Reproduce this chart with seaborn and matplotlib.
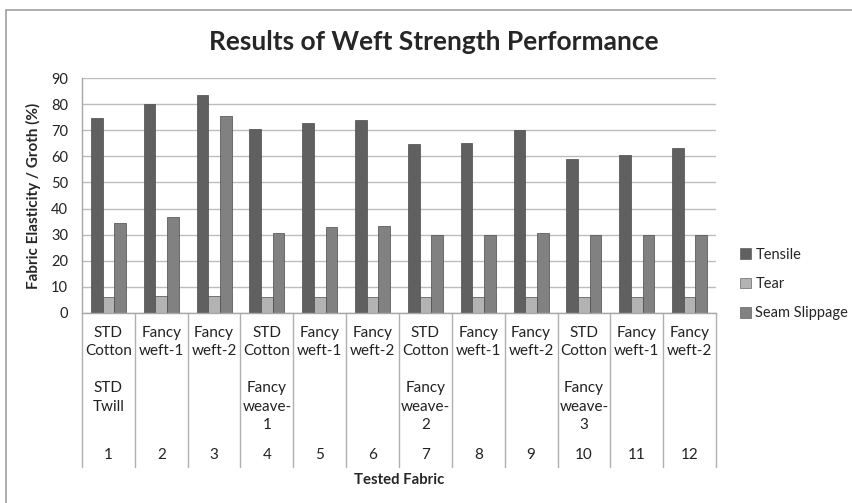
import numpy as np
import pandas as pd
import matplotlib.pyplot as plt
import matplotlib.transforms as mtransforms
from matplotlib.patches import Rectangle, Patch
import seaborn as sns

# values
fabric_no = ['1', '2', '3', '4', '5', '6', '7', '8', '9', '10', '11', '12']
fabric_type = ['STD\nCotton', 'Fancy\nweft-1', 'Fancy\nweft-2'] * 4
weave_type = ['STD\nTwill', '', '', 'Fancy\nweave-\n1', '', '',
              'Fancy\nweave-\n2', '', '', 'Fancy\nweave-\n3', '', '']
tensile = [74.7, 80.2, 83.5, 70.6, 72.8, 73.9, 64.6, 65.0, 69.9, 59.1, 60.7, 63.2]
tear = [6.3, 6.5, 6.5, 6.3, 6.3, 6.3, 6.3, 6.3, 6.3, 6.0, 6.0, 6.0]
seam = [34.5, 36.7, 75.4, 30.8, 32.8, 33.2, 30.0, 30.0, 30.5, 30.0, 30.0, 30.0]
series = ['Tensile', 'Tear', 'Seam Slippage']
colors = ['#606060', '#b3b3b3', '#818181']

df = pd.DataFrame({'Fabric': fabric_no * 3,
                   'Test': np.repeat(series, len(fabric_no)),
                   'Value': tensile + tear + seam})

sns.set_style('white')
plt.rcParams['font.family'] = ['Lato', 'DejaVu Sans']

fig = plt.figure(figsize=(8.53, 5.03), dpi=100)
ax = fig.add_axes([82 / 853, 1 - 313 / 503, (716 - 82) / 853, 235 / 503])

sns.barplot(data=df, x='Fabric', y='Value', hue='Test', order=fabric_no,
            hue_order=series, palette=colors, width=0.66, gap=0,
            edgecolor='#4a4a4a', linewidth=0.5, ax=ax, legend=False)

ax.set_ylim(0, 90)
ax.set_xlim(-0.5, 11.5)
ax.set_yticks(range(0, 91, 10))
ax.tick_params(axis='y', labelsize=10.5, length=0, pad=10, colors='#222222')
ax.set_xticks([])
ax.set_xlabel('')
ax.set_ylabel('Fabric Elasticity / Groth (%)', fontsize=11, fontweight='bold',
              labelpad=7)
ax.yaxis.grid(True, color='#bdbdbd', linewidth=1)
ax.set_axisbelow(True)
for s in ['top', 'right']:
    ax.spines[s].set_visible(False)
for s in ['left', 'bottom']:
    ax.spines[s].set_color('#a6a6a6')
    ax.spines[s].set_linewidth(1)

# multi-level category axis
trans = mtransforms.blended_transform_factory(ax.transData, ax.transAxes)
for i in range(13):
    ax.plot([i - 0.5, i - 0.5], [0, -0.655], transform=trans, clip_on=False,
            color='#b0b0b0', linewidth=1)
for i in range(12):
    ax.text(i, -0.055, fabric_type[i], transform=trans, ha='center', va='top',
            fontsize=11, linespacing=1.4, color='#222222')
    ax.text(i, -0.29, weave_type[i], transform=trans, ha='center', va='top',
            fontsize=11, linespacing=1.4, color='#222222')
    ax.text(i, -0.605, fabric_no[i], transform=trans, ha='center', va='center',
            fontsize=11, color='#222222')
ax.text(0.5, -0.71, 'Tested Fabric', transform=ax.transAxes, ha='center',
        va='center', fontsize=10.7, fontweight='bold')

fig.text(434 / 853, 1 - 42 / 503, 'Results of Weft Strength Performance',
         ha='center', va='center', fontsize=19, fontweight='bold')

handles = [Patch(facecolor=c, edgecolor='#4a4a4a', linewidth=0.4) for c in colors]
fig.legend(handles, series, loc='center left',
           bbox_to_anchor=(740 / 853, 1 - 284 / 503), frameon=False,
           fontsize=10.5, handlelength=0.75, handleheight=0.75,
           handletextpad=0.3, labelspacing=1.05, borderpad=0, borderaxespad=0)

fig.patches.append(Rectangle((6.5 / 853, -0.1), 1.2, 1.1 - 10.5 / 503,
                             transform=fig.transFigure, fill=False,
                             edgecolor='#a0a0a0', linewidth=1.2))

fig.savefig('out.png', dpi=100)
